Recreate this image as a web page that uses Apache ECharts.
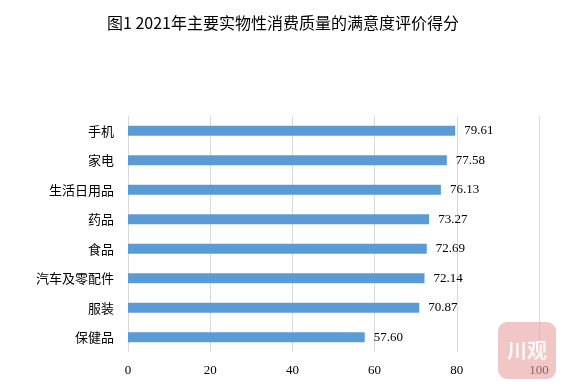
<!DOCTYPE html>
<html><head><meta charset="utf-8">
<script src="https://cdn.jsdelivr.net/npm/echarts@6/dist/echarts.min.js"></script>
<style>html,body{margin:0;padding:0;background:#fff}#c{width:566px;height:390px}</style>
</head><body><div id="c"></div>
<script>
const title = '图1 2021年主要实物性消费质量的满意度评价得分';
const categories = ['手机','家电','生活日用品','药品','食品','汽车及零配件','服装','保健品'];
const values = [79.61, 77.58, 76.13, 73.27, 72.69, 72.14, 70.87, 57.60];
const xTicks = [0, 20, 40, 60, 80, 100];

const chart = echarts.init(document.getElementById('c'));
chart.setOption({
  animation: false,
  title: {
    text: title, left: 'center', top: 10,
    textStyle: {fontFamily: 'Noto Sans CJK SC', fontSize: 16, fontWeight: 'normal', color: '#000'}
  },
  grid: {left: 128, right: 27, top: 116, bottom: 38, containLabel: false},
  xAxis: {
    type: 'value', min: xTicks[0], max: xTicks[xTicks.length-1], interval: 20,
    axisLine: {show: false}, axisTick: {show: false},
    splitLine: {show: true, lineStyle: {color: '#d9d9d9', width: 1}},
    axisLabel: {fontFamily: 'Liberation Serif', fontSize: 13, color: '#000', margin: 12}
  },
  yAxis: {
    type: 'category', data: categories, inverse: true,
    axisLine: {show: false}, axisTick: {show: false},
    axisLabel: {fontFamily: 'Noto Sans CJK SC', fontSize: 13, color: '#000', margin: 14}
  },
  series: [{
    type: 'bar', data: values, barWidth: 10,
    itemStyle: {color: '#5b9bd5'},
    label: {show: true, position: 'right', distance: 9,
      formatter: p => p.value.toFixed(2),
      fontFamily: 'Liberation Serif', fontSize: 13, color: '#000'}
  }],
  graphic: [
    {type: 'rect', z: 100, shape: {x: 498, y: 322, width: 58, height: 57, r: 9},
     style: {fill: 'rgba(232,160,160,0.6)'}},
    {type: 'text', z: 101, x: 527, y: 350,
     style: {text: '川观', fill: 'rgba(255,255,255,0.85)', font: 'bold 20px "Noto Sans CJK SC"', align: 'center', verticalAlign: 'middle'}}
  ]
});
</script></body></html>
